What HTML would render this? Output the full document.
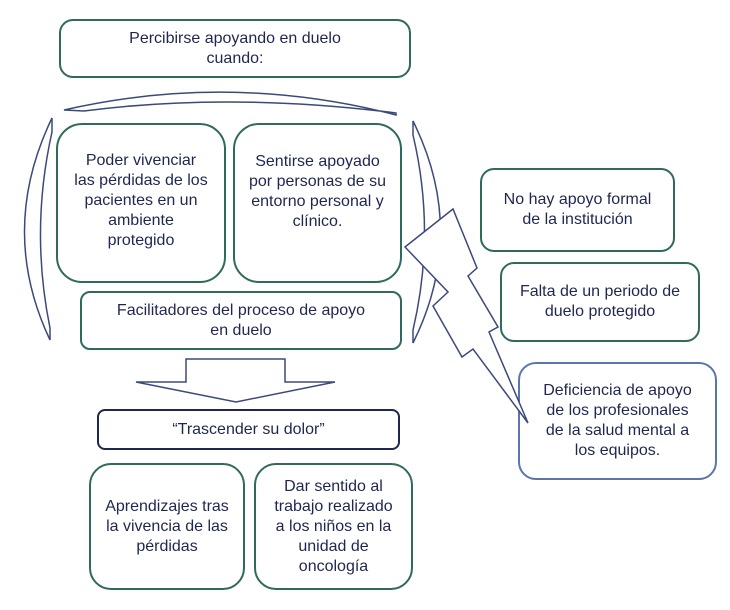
<!DOCTYPE html>
<html><head><meta charset="utf-8"><style>
body{margin:0;background:#fff;width:730px;height:610px;position:relative;overflow:hidden;font-family:"Liberation Sans",sans-serif;}
.b{position:absolute;box-sizing:border-box;border:2px solid #2f6a5c;border-radius:14px;display:flex;align-items:center;justify-content:center;text-align:center;color:#1f2650;font-size:16px;line-height:20px;background:#fff;}
svg{position:absolute;left:0;top:0;}
</style></head><body>
<div class="b" style="left:59px;top:19px;width:352px;height:59px;">Percibirse apoyando en duelo<br>cuando:</div>
<div class="b" style="left:56px;top:123px;width:170px;height:160px;border-radius:26px;align-items:flex-start;padding-top:26px;">Poder vivenciar<br>las pérdidas de los<br>pacientes en un<br>ambiente<br>protegido</div>
<div class="b" style="left:233px;top:123px;width:169px;height:160px;border-radius:26px;align-items:flex-start;padding-top:27px;">Sentirse apoyado<br>por personas de su<br>entorno personal y<br>clínico.</div>
<div class="b" style="left:80px;top:291px;width:322px;height:59px;border-radius:10px;">Facilitadores del proceso de apoyo<br>en duelo</div>
<div class="b" style="left:97px;top:409px;width:303px;height:41px;border-color:#1f2650;border-radius:8px;">“Trascender su dolor”</div>
<div class="b" style="left:89px;top:463px;width:156px;height:127px;border-radius:22px;">Aprendizajes tras<br>la vivencia de las<br>pérdidas</div>
<div class="b" style="left:254px;top:463px;width:159px;height:127px;border-radius:22px;">Dar sentido al<br>trabajo realizado<br>a los niños en la<br>unidad de<br>oncología</div>
<div class="b" style="left:480px;top:168px;width:195px;height:84px;">No hay apoyo formal<br>de la institución</div>
<div class="b" style="left:500px;top:262px;width:200px;height:80px;">Falta de un periodo de<br>duelo protegido</div>
<div class="b" style="left:518px;top:362px;width:199px;height:118px;border-color:#5a76ad;border-radius:18px;">Deficiencia de apoyo<br>de los profesionales<br>de la salud mental a<br>los equipos.</div>
<svg width="730" height="610" viewBox="0 0 730 610">
<g fill="#fff" stroke="#3b4a7a" stroke-width="1.5">
<path d="M64,110 Q230,72 396,115 L396,113 Q230,92 84,111 Z"/>
<path d="M52,118 Q-2,230 50,340 L50,328 Q30,230 52,132 Z"/>
<path d="M413,121 Q468,232 413,343 L413,330 Q436,232 413,135 Z"/>
<path d="M186,359 L285,359 L285,382 L335,382 L236,402 L136,382 L186,382 Z"/>
<path d="M405,247 L453,209 L477,268 L468,276 L498,327 L489,332 L528,423 L473,349 L462,357 L433,306 L448,292 Z"/>
</g>
</svg>
</body></html>
